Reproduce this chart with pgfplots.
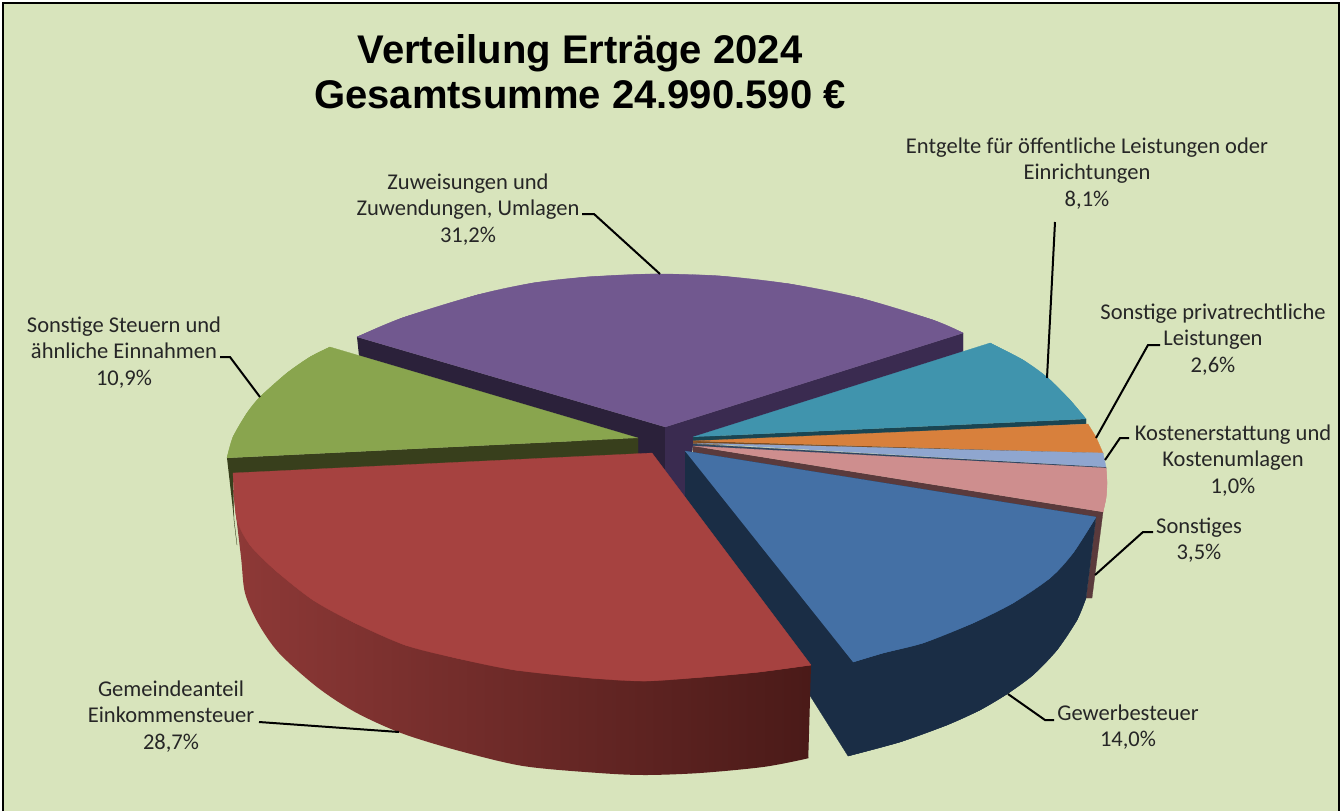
\documentclass[border=0pt]{standalone}
\usepackage{fontspec}
\setmainfont{Carlito}
\newfontfamily\titlefont{Liberation Sans}
\usepackage{pgfplots}
\pgfplotsset{compat=1.18}

\definecolor{bg}{HTML}{D8E4BC}
\definecolor{purpletop}{HTML}{71588F}
\definecolor{purplewallL}{HTML}{2B213A}
\definecolor{purplewallR}{HTML}{3A2B50}
\definecolor{greentop}{HTML}{89A54E}
\definecolor{greenwall}{HTML}{383F1C}
\definecolor{tealtop}{HTML}{4094AD}
\definecolor{tealwall}{HTML}{1A4552}
\definecolor{orangetop}{HTML}{D8803C}
\definecolor{orangewall}{HTML}{7A4A20}
\definecolor{ltbluetop}{HTML}{8FA6CF}
\definecolor{ltbluewall}{HTML}{2F4560}
\definecolor{pinktop}{HTML}{CE8E8E}
\definecolor{pinkwall}{HTML}{5A3A3C}
\definecolor{bluetop}{HTML}{4470A5}
\definecolor{bluewall}{HTML}{1A2D45}
\definecolor{redtop}{HTML}{A64240}
\definecolor{redwallA}{HTML}{8E3937}
\definecolor{redwallB}{HTML}{6E2C2C}
\definecolor{redwallC}{HTML}{4A1A18}

\tikzset{
  slice/.style={fill=#1, draw=#1, line width=0.2pt},
  % curved rim: drawn over a polygon through the same points, so no seam shows
  rim/.style={fill=#1, draw=#1, line width=0.2pt, smooth},
  leader/.style={black, line width=1.5pt},
  lbl/.style={font=\fontsize{16.9}{20}\selectfont, align=center, anchor=center, text=black!85},
}

\begin{document}
\begin{tikzpicture}
\begin{axis}[
    width=1005pt, height=608.25pt, scale only axis,
    xmin=0, xmax=1340, ymin=0, ymax=811,
    y dir=reverse,
    hide axis,
    clip=false,
    no markers,
]
% background and frame
\addplot[fill=white, draw=none] coordinates {(0,0) (1340,0) (1340,811) (0,811)};
\addplot[fill=bg, draw=none] coordinates {(3,3) (1339,3) (1339,811) (3,811)};
\addplot[black, line width=1.1pt] coordinates {(3,811) (3,3) (1339,3) (1339,811)};

% Zuweisungen und Zuwendungen, Umlagen
\addplot[slice=purplewallL] coordinates {(357,337) (665,427) (665,472) (650,453) (638,462) (359,356)};
\addplot[slice=purplewallR] coordinates {(665,427) (963,333) (963,352) (693,445) (685,498) (665,472)};
\addplot[rim=purpletop] coordinates {
  (357,337) (402,318) (477,295) (533,283) (587,277) (653,274)
  (720,276) (790,284) (860,298) (933,320) (963,333)};
\addplot[slice=purpletop] coordinates {
  (357,337) (402,318) (477,295) (533,283) (587,277) (653,274)
  (720,276) (790,284) (860,298) (933,320) (963,333) (665,427)};

% Sonstige Steuern und aehnliche Einnahmen
\addplot[slice=greenwall] coordinates {(227,458) (638,438) (638,462) (233,482) (234,520) (237,545)};
\addplot[rim=greentop] coordinates {(227,458) (233,437) (247,413) (260,397) (287,373) (310,357) (330,347)};
\addplot[slice=greentop] coordinates {(227,458) (233,437) (247,413) (260,397) (287,373) (310,357) (330,347) (638,438)};

% Entgelte fuer oeffentliche Leistungen oder Einrichtungen
\addplot[slice=tealwall] coordinates {(693,437) (1086,419) (1086,424) (693,442)};
\addplot[rim=tealtop] coordinates {(990,343) (1023,360) (1048,378) (1070,400) (1086,419)};
\addplot[slice=tealtop] coordinates {(693,437) (990,343) (1023,360) (1048,378) (1070,400) (1086,419)};

% Sonstige privatrechtliche Leistungen
\addplot[slice=orangewall] coordinates {(693,441) (1103,453) (1103,454) (693,444)};
\addplot[slice=orangetop] coordinates {(693,441) (1088,424) (1096,437) (1103,453)};

% Kostenerstattung und Kostenumlagen
\addplot[slice=ltbluewall] coordinates {(693,444) (1106,467) (1106,469) (693,447)};
\addplot[slice=ltbluetop] coordinates {(693,443) (1103,453) (1106,467)};

% Sonstiges
\addplot[slice=pinkwall] coordinates {(693,446) (1103,512) (1092,598) (1086,598) (1096,517) (693,453)};
\addplot[rim=pinktop] coordinates {(1106,468) (1107,483) (1106,498) (1103,512)};
\addplot[slice=pinktop] coordinates {(693,446) (1106,468) (1107,483) (1106,498) (1103,512)};

% Gewerbesteuer
\addplot[rim=bluewall] coordinates {
  (1086,598) (1077,620) (1057,650) (1033,675) (1007,694) (980,710) (947,725) (900,742) (848,756)};
\addplot[slice=bluewall] coordinates {
  (685,451) (1096,517) (1086,598) (1077,620) (1057,650) (1033,675) (1007,694) (980,710)
  (947,725) (900,742) (848,756) (685,497)};
\addplot[rim=bluetop] coordinates {
  (1096,517) (1073,553) (1050,578) (1013,603) (973,623) (923,643) (883,653) (853,662)};
\addplot[slice=bluetop] coordinates {
  (685,451) (1096,517) (1073,553) (1050,578) (1013,603) (973,623) (923,643) (883,653) (853,662)};

% Gemeindeanteil Einkommensteuer
\addplot[left color=redwallA, middle color=redwallB, right color=redwallC, draw=none, smooth] coordinates {
  (233,490) (241,557) (245,593) (258,623) (279,653) (317,687) (355,712) (401,733) (456,750)
  (523,766) (599,773) (645,775) (700,773) (763,767) (805,759) (808,757) (808.5,750) (811,665)};
\addplot[rim=redtop] coordinates {
  (811,665) (759,672) (704,677) (645,681) (590,678) (515,670) (456,658)
  (405,645) (355,623) (313,600) (275,570) (250,545) (237,520) (234,490) (233,473)};
\addplot[slice=redtop] coordinates {
  (233,473) (652,453) (811,665) (759,672) (704,677) (645,681) (590,678) (515,670) (456,658)
  (405,645) (355,623) (313,600) (275,570) (250,545) (237,520) (234,490)};

% leader lines
\addplot[leader] coordinates {(582,214) (594,214) (660,274)};
\addplot[leader] coordinates {(220,357) (230,357) (260,397)};
\addplot[leader] coordinates {(259,722) (399,732)};
\addplot[leader] coordinates {(1008,694) (1045,720) (1054,720)};
\addplot[leader] coordinates {(1095,575) (1143,532) (1153,532)};
\addplot[leader] coordinates {(1105,460) (1120,438) (1129,438)};
\addplot[leader] coordinates {(1096,438) (1148,345) (1160,345)};
\addplot[leader] coordinates {(1055,222) (1047,378)};

% title
\node[font=\titlefont\bfseries\fontsize{30}{33.7}\selectfont, align=center, anchor=center]
  at (axis cs:580,72) {Verteilung Erträge 2024\\Gesamtsumme 24.990.590 €};

% labels
\node[lbl] at (axis cs:468,209.5) {Zuweisungen und\\Zuwendungen, Umlagen\\31,2\%};
\node[lbl] at (axis cs:1087,173.5) {Entgelte für öffentliche Leistungen oder\\Einrichtungen\\8,1\%};
\node[lbl] at (axis cs:1213,339.5) {Sonstige privatrechtliche\\Leistungen\\2,6\%};
\node[lbl] at (axis cs:1233,460.5) {Kostenerstattung und\\Kostenumlagen\\1,0\%};
\node[lbl] at (axis cs:1199,540) {Sonstiges\\3,5\%};
\node[lbl] at (axis cs:1128,727) {Gewerbesteuer\\14,0\%};
\node[lbl] at (axis cs:171,716.5) {Gemeindeanteil\\Einkommensteuer\\28,7\%};
\node[lbl] at (axis cs:124,352.5) {Sonstige Steuern und\\ähnliche Einnahmen\\10,9\%};
\end{axis}
\end{tikzpicture}
\end{document}
